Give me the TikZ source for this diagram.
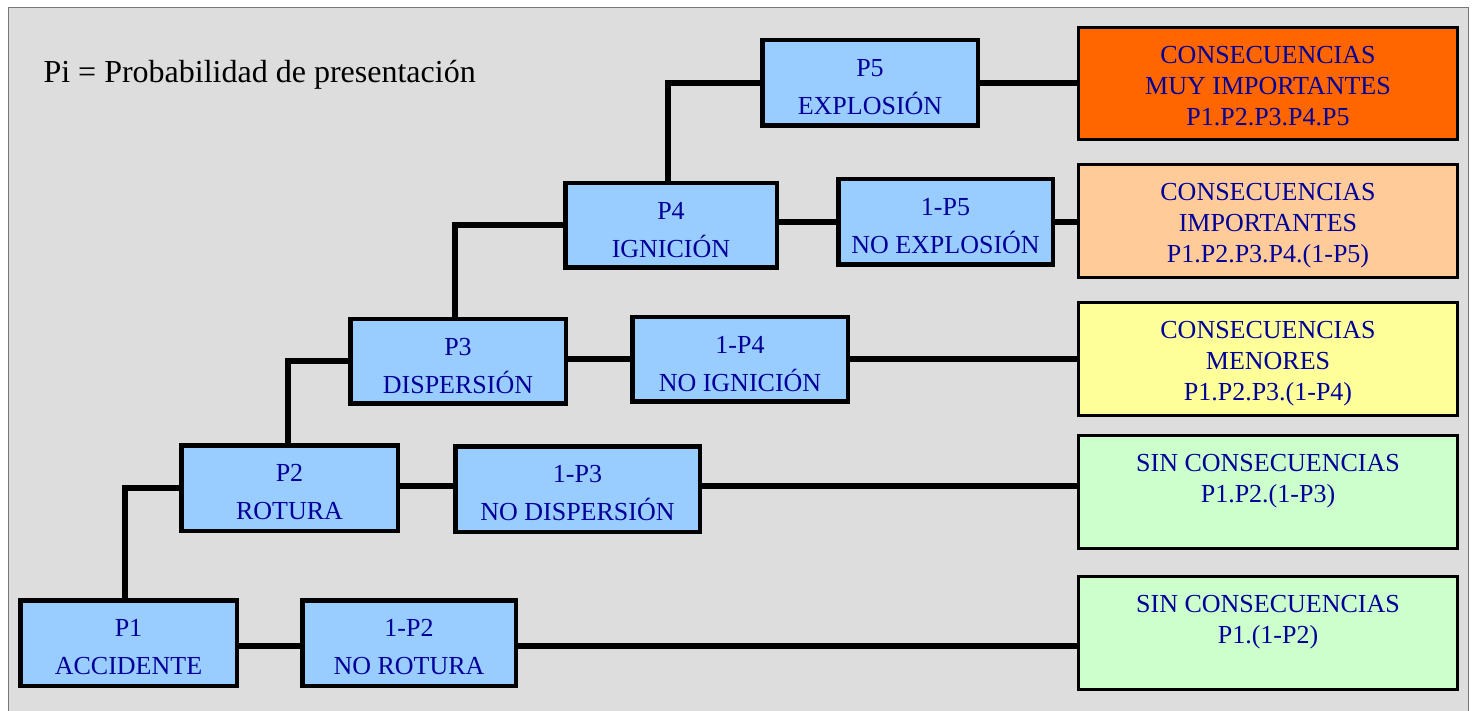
\documentclass[tikz,border=0pt]{standalone}
\usepackage{fontspec}
\setmainfont{Liberation Serif}
\definecolor{panelgray}{HTML}{DDDDDD}
\definecolor{framegray}{HTML}{777777}
\definecolor{evfill}{HTML}{99CCFF}
\definecolor{evtext}{HTML}{000099}
\definecolor{resorange}{HTML}{FF6600}
\definecolor{respeach}{HTML}{FFCC99}
\definecolor{resyellow}{HTML}{FFFF99}
\definecolor{resgreen}{HTML}{CCFFCC}
% invisible strut on the first line, pushes the text block down a little
\newcommand\firstline[1]{\rule{0pt}{#1}}
\newcommand\ev[2]{\firstline{26pt}#1\\#2}
\begin{document}
\begin{tikzpicture}[x=1pt,y=-1pt,
  evbox/.style={draw=black, line width=4.5pt, fill=evfill, text=evtext,
    align=center, inner sep=0pt, font=\fontsize{26}{38}\selectfont},
  resbox/.style={draw=black, line width=3pt, minimum width=379pt,
    minimum height=113pt, align=center, inner sep=0pt, text=evtext,
    font=\fontsize{26}{31}\selectfont},
  link/.style={line width=6pt}]
  \useasboundingbox (0,0) rectangle (1476,711);
  \clip (0,0) rectangle (1476,711);
  % panel
  \fill[panelgray] (8,8) rectangle (1468,720);
  \draw[framegray, line width=1pt] (8,720) -- (8,8) -- (1468,8) -- (1468,720);

  \node[anchor=base west, font=\fontsize{32}{38}\selectfont] (title) at (40,83)
    {Pi = Probabilidad de presentación};

  % event boxes
  \node[evbox, minimum width=216.5pt, minimum height=85.5pt] (p1) at (128.5,643) {\ev{P1}{ACCIDENTE}};
  \node[evbox, minimum width=216.5pt, minimum height=85.5pt] (p2) at (289.5,488) {\ev{P2}{ROTURA}};
  \node[evbox, minimum width=215.5pt, minimum height=84.5pt] (p3) at (458,361.5) {\ev{P3}{DISPERSIÓN}};
  \node[evbox, minimum width=211.5pt, minimum height=84.5pt] (p4) at (671,225.5) {\ev{P4}{IGNICIÓN}};
  \node[evbox, minimum width=215.5pt, minimum height=85.5pt] (p5) at (870,83) {\ev{P5}{EXPLOSIÓN}};
  \node[evbox, minimum width=213.5pt, minimum height=85.5pt] (q2) at (409,643) {\ev{1-P2}{NO ROTURA}};
  \node[evbox, minimum width=244.5pt, minimum height=85.5pt] (q3) at (577.5,489) {\ev{1-P3}{NO DISPERSIÓN}};
  \node[evbox, minimum width=215.5pt, minimum height=84.5pt] (q4) at (740,359.5) {\ev{1-P4}{NO IGNICIÓN}};
  \node[evbox, minimum width=214.5pt, minimum height=85.5pt] (q5) at (945.5,222) {\ev{1-P5}{NO EXPLOSIÓN}};

  % outcome boxes
  \node[resbox, fill=resorange, minimum height=112pt] (r5) at (1268,83.5)
    {\firstline{22pt}CONSECUENCIAS\\MUY IMPORTANTES\\P1.P2.P3.P4.P5};
  \node[resbox, fill=respeach] (r4) at (1268,221.5)
    {\firstline{25pt}CONSECUENCIAS\\IMPORTANTES\\P1.P2.P3.P4.(1-P5)};
  \node[resbox, fill=resyellow] (r3) at (1268,359)
    {\firstline{26pt}CONSECUENCIAS\\MENORES\\P1.P2.P3.(1-P4)};
  \node[resbox, fill=resgreen] (r2) at (1268,492)
    {\firstline{27pt}SIN CONSECUENCIAS\\P1.P2.(1-P3)\\\vphantom{(}};
  \node[resbox, fill=resgreen] (r1) at (1268,633)
    {\firstline{27pt}SIN CONSECUENCIAS\\P1.(1-P2)\\\vphantom{(}};

  % branches: success goes up, failure goes right
  \draw[link] ([xshift=-3.5pt]p1.north) |- (p2.west);
  \draw[link] ([xshift=-1.5pt]p2.north) |- (p3.west);
  \draw[link] ([xshift=-3.5pt]p3.north) |- (p4.west);
  \draw[link] ([xshift=-3.5pt]p4.north) |- (p5.west);

  \draw[link] ([yshift=-3pt]p1.east) -- ([yshift=-3pt]q2.west);
  \draw[link] ([yshift=-3pt]q2.east) -- ([yshift=-3pt]q2.east -| r1.west);
  \draw[link] ([yshift=3pt]q3.west -| p2.east) -- ([yshift=3pt]q3.west);
  \draw[link] ([yshift=3pt]q3.east) -- ([yshift=3pt]q3.east -| r2.west);
  \draw[link] (q4.west -| p3.east) -- (q4.west);
  \draw[link] (q4.east) -- (q4.east -| r3.west);
  \draw[link] (q5.west -| p4.east) -- (q5.west);
  \draw[link] (q5.east) -- (q5.east -| r4.west);
  \draw[link] (p5.east) -- (p5.east -| r5.west);
\end{tikzpicture}
\end{document}
